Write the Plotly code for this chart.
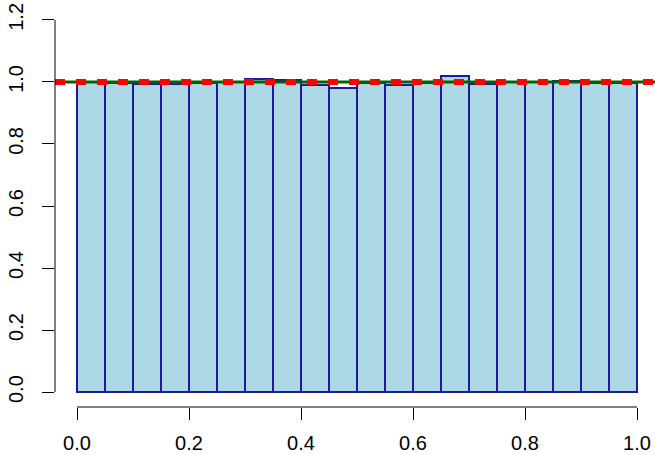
import plotly.graph_objects as go

# Histogram of 20 equal-width bins on [0, 1], density scale
bin_edges = [i * 0.05 for i in range(21)]
density = [1.000, 0.998, 0.994, 0.994, 0.998, 0.999, 1.010, 1.005, 0.990, 0.980,
           0.995, 0.990, 0.997, 1.020, 0.994, 1.001, 0.999, 1.004, 0.998, 0.996]
reference_level = 1.0

x_ticks = [0.0, 0.2, 0.4, 0.6, 0.8, 1.0]
y_ticks = [0.0, 0.2, 0.4, 0.6, 0.8, 1.0, 1.2]

centers = [(a + b) / 2 for a, b in zip(bin_edges[:-1], bin_edges[1:])]
widths = [b - a for a, b in zip(bin_edges[:-1], bin_edges[1:])]

fig = go.Figure()
fig.add_trace(go.Bar(
    x=centers, y=density, width=widths,
    marker=dict(color="#ADD8E6", line=dict(color="#1C1C9A", width=2)),
    hoverinfo="skip",
))

x_lo, x_hi = -0.0393, 1.0321
fig.add_trace(go.Scatter(
    x=[x_lo, x_hi], y=[reference_level, reference_level], mode="lines",
    line=dict(color="#006400", width=3), hoverinfo="skip",
))
fig.add_trace(go.Scatter(
    x=[x_lo, x_hi], y=[reference_level, reference_level], mode="lines",
    line=dict(color="#FF0000", width=6, dash="10px,11px"), hoverinfo="skip",
))

axis_font = dict(family="Liberation Sans, Arial, sans-serif", size=20, color="black")

fig.update_layout(
    width=655, height=455,
    margin=dict(l=55, r=0, t=5, b=48),
    paper_bgcolor="white", plot_bgcolor="white",
    showlegend=False,
    bargap=0,
    xaxis=dict(
        range=[x_lo, x_hi], tickvals=x_ticks,
        ticktext=[f"{v:.1f}" for v in x_ticks],
        ticks="outside", ticklen=12, tickwidth=1, tickcolor="black",
        showline=False, showgrid=False, zeroline=False, automargin=False,
        tickfont=axis_font, ticklabelstandoff=6,
    ),
    yaxis=dict(
        range=[-0.048, 1.248], tickvals=y_ticks,
        ticktext=[f"{v:.1f}" for v in y_ticks],
        ticks="outside", ticklen=12, tickwidth=1, tickcolor="black",
        showline=False, showgrid=False, zeroline=False, automargin=False,
        tickangle=-90, tickfont=axis_font, ticklabelstandoff=11,
    ),
    shapes=[
        dict(type="line", xref="x", yref="paper", x0=x_ticks[0], x1=x_ticks[-1],
             y0=0, y1=0, line=dict(color="black", width=1)),
        dict(type="line", xref="paper", yref="y", x0=0, x1=0,
             y0=y_ticks[0], y1=y_ticks[-1], line=dict(color="black", width=1)),
    ],
)

fig.write_html("out.html")
